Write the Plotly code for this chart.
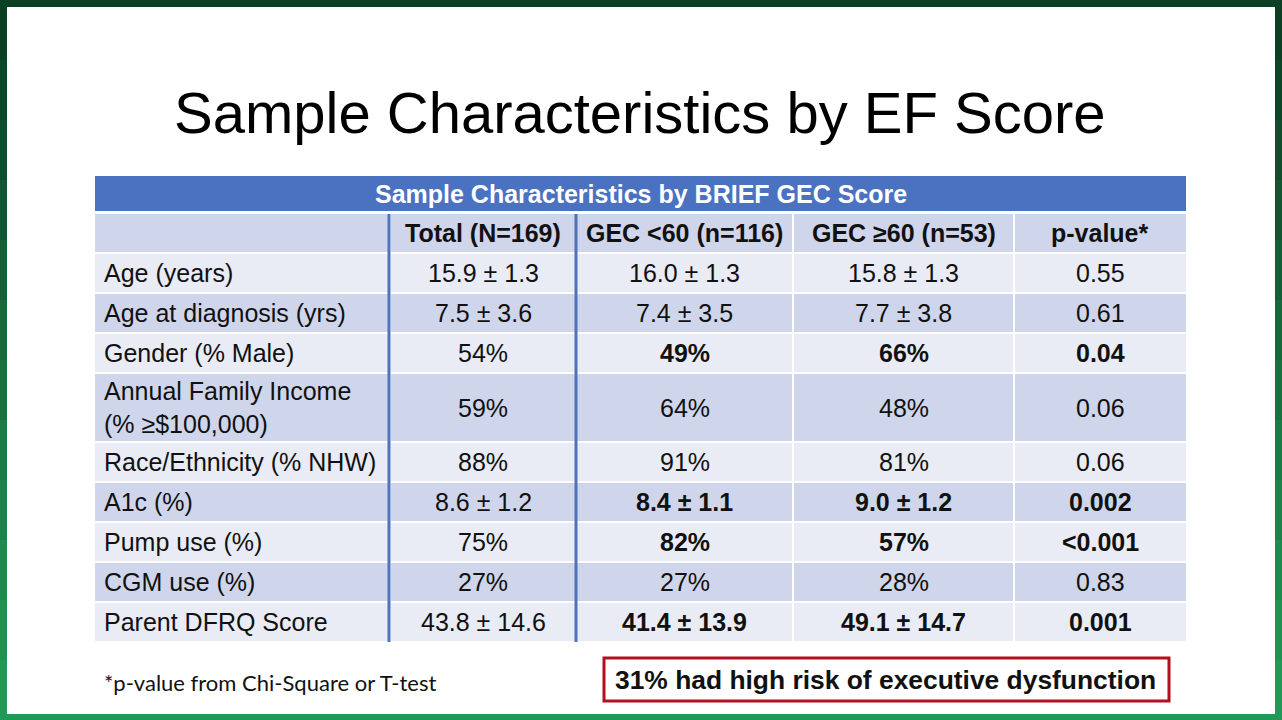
import plotly.graph_objects as go

# ---------------- data ----------------
slide_title = "Sample Characteristics by EF Score"
table_title = "Sample Characteristics by BRIEF GEC Score"
col_headers = ["", "Total (N=169)", "GEC <60 (n=116)", "GEC ≥60 (n=53)", "p-value*"]
row_labels = ["Age (years)", "Age at diagnosis (yrs)", "Gender (% Male)",
              "Annual Family Income<br>(% ≥$100,000)", "Race/Ethnicity (% NHW)",
              "A1c (%)", "Pump use (%)", "CGM use (%)", "Parent DFRQ Score"]
total = ["15.9 ± 1.3", "7.5 ± 3.6", "54%", "59%", "88%", "8.6 ± 1.2", "75%", "27%", "43.8 ± 14.6"]
gec_lt60 = ["16.0 ± 1.3", "7.4 ± 3.5", "49%", "64%", "91%", "8.4 ± 1.1", "82%", "27%", "41.4 ± 13.9"]
gec_ge60 = ["15.8 ± 1.3", "7.7 ± 3.8", "66%", "48%", "81%", "9.0 ± 1.2", "57%", "28%", "49.1 ± 14.7"]
p_values = ["0.55", "0.61", "0.04", "0.06", "0.06", "0.002", "<0.001", "0.83", "0.001"]
row_lines = [1, 1, 1, 2, 1, 1, 1, 1, 1]
footnote = "*p-value from Chi-Square or T-test"
callout = "31% had high risk of executive dysfunction"

# ---------------- layout constants ----------------
W, H = 1282, 720
col_edges = [95, 390, 576, 793, 1014, 1186]
title_band = (176, 211)
header_top = 214
pitch_single = 40
pitch_double = 69
gap = 2
BLUE = "#4a72c0"
DARK = "#cfd5ea"
LIGHT = "#e9ebf5"
FONT = "Liberation Sans, Arial, sans-serif"
FS = 25

def is_sig(p):
    s = p.replace("<", "")
    return float(s) < 0.05

shapes = []
annotations = []

# background green gradient bands
greens = ["#0b4025", "#0c4628", "#0e4e2c", "#105731", "#126036", "#15693b",
          "#177240", "#197b45", "#1b834a", "#1d8b4e", "#1f9252", "#219855"]
band_h = H / len(greens)
for i, c in enumerate(greens):
    shapes.append(dict(type="rect", x0=0, x1=W, y0=i * band_h, y1=(i + 1) * band_h + 1,
                       fillcolor=c, line=dict(width=0), layer="below"))
# white slide
shapes.append(dict(type="rect", x0=7, x1=1275, y0=7, y1=714, fillcolor="white",
                   line=dict(width=0), layer="below"))

# slide title
annotations.append(dict(x=640, y=112, text=slide_title, showarrow=False,
                        font=dict(family=FONT, size=58, color="#000000"),
                        xanchor="center", yanchor="middle"))

# table title band
shapes.append(dict(type="rect", x0=col_edges[0], x1=col_edges[-1], y0=title_band[0], y1=title_band[1],
                   fillcolor=BLUE, line=dict(width=0)))
annotations.append(dict(x=(col_edges[0] + col_edges[-1]) / 2, y=sum(title_band) / 2,
                        text="<b>" + table_title + "</b>", showarrow=False,
                        font=dict(family=FONT, size=25, color="white"),
                        xanchor="center", yanchor="middle"))

# rows: header + data
rows = [col_headers] + [[row_labels[i], total[i], gec_lt60[i], gec_ge60[i], p_values[i]]
                        for i in range(len(row_labels))]
lines = [1] + row_lines
bold_flags = [[True] * 5] + [[False, False] + [is_sig(p_values[i])] * 3 for i in range(len(row_labels))]

y = header_top
for r, (cells, nl) in enumerate(zip(rows, lines)):
    pitch = pitch_single if nl == 1 else pitch_double
    y0, y1 = y, y + pitch - gap
    fill = DARK if r % 2 == 0 else LIGHT
    for c in range(5):
        x0 = col_edges[c] + (0 if c == 0 else 1)
        x1 = col_edges[c + 1] - (1 if c < 4 else 0)
        shapes.append(dict(type="rect", x0=x0, x1=x1, y0=y0, y1=y1, fillcolor=fill,
                           line=dict(width=0)))
        txt = cells[c]
        if not txt:
            continue
        if bold_flags[r][c]:
            txt = "<b>" + txt + "</b>"
        if c == 0:
            annotations.append(dict(x=col_edges[0] + 7, y=(y0 + y1) / 2, text=txt, showarrow=False,
                                    font=dict(family=FONT, size=FS, color="#111111"),
                                    xanchor="left", yanchor="middle", align="left"))
        else:
            annotations.append(dict(x=(col_edges[c] + col_edges[c + 1]) / 2, y=(y0 + y1) / 2,
                                    text=txt, showarrow=False,
                                    font=dict(family=FONT, size=FS, color="#111111"),
                                    xanchor="center", yanchor="middle"))
    y += pitch
table_bottom = y - gap + 1

# blue vertical separators
for xv in (col_edges[1] - 1, col_edges[2]):
    shapes.append(dict(type="line", x0=xv, x1=xv, y0=header_top, y1=table_bottom,
                       line=dict(color="#4f74bb", width=3)))

# footnote
annotations.append(dict(x=102, y=682, text=footnote, showarrow=False,
                        font=dict(family="Lato, Open Sans, sans-serif", size=22, color="#111111"),
                        xanchor="left", yanchor="middle"))

# callout box
shapes.append(dict(type="rect", x0=604, x1=1169, y0=658, y1=701, fillcolor="white",
                   line=dict(color="#b0101f", width=3)))
annotations.append(dict(x=885, y=680, text="<b>" + callout + "</b>", showarrow=False,
                        font=dict(family=FONT, size=26.4, color="#111111"),
                        xanchor="center", yanchor="middle"))

fig = go.Figure()
fig.update_layout(
    width=W, height=H, margin=dict(l=0, r=0, t=0, b=0),
    paper_bgcolor="#126036", plot_bgcolor="rgba(0,0,0,0)",
    xaxis=dict(range=[0, W], visible=False, fixedrange=True),
    yaxis=dict(range=[H, 0], visible=False, fixedrange=True),
    shapes=shapes, annotations=annotations, showlegend=False,
)
fig.write_html("out.html", config={"displayModeBar": False, "staticPlot": True},
               post_script="document.body.style.margin='0';document.body.style.overflow='hidden';")
